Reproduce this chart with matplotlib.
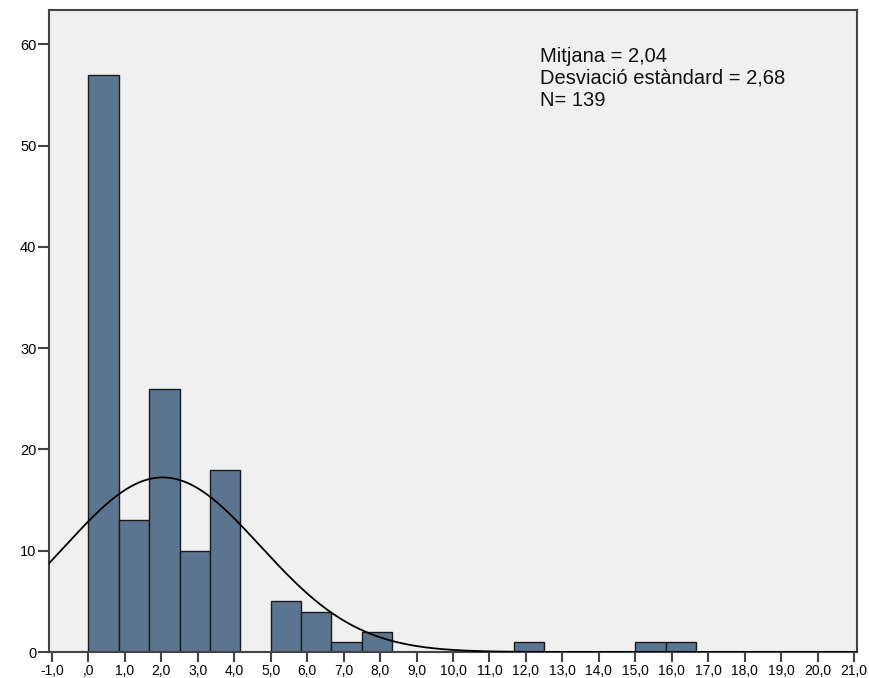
import numpy as np
import matplotlib
matplotlib.use("Agg")
import matplotlib.pyplot as plt

# histogram counts, bins of width 5/6 starting at 0
bin_start = 0.0
bin_width = 5.0 / 6.0
counts = [57, 13, 26, 10, 18, 0, 5, 4, 1, 2, 0, 0, 0, 0, 1, 0, 0, 0, 1, 1]

mean = 2.04
std = 2.68
n = 139

x_ticks = list(range(-1, 22))
y_ticks = [0, 10, 20, 30, 40, 50, 60]

plt.rcParams['font.family'] = ['Liberation Sans', 'DejaVu Sans']

fig = plt.figure(figsize=(8.7, 6.78), dpi=100)
ax = fig.add_axes([0.0563, 0.0383, 0.9287, 0.947])
ax.set_facecolor('#F0F0F0')

edges = bin_start + bin_width * np.arange(len(counts))
cnt = np.array(counts)
keep = cnt > 0
ax.bar(edges[keep], cnt[keep], width=bin_width, align='edge',
       color='#5B7590', edgecolor='#1a1a1a', linewidth=1.0, zorder=2)

# normal curve scaled to counts
xs = np.linspace(-1.1, 21.1, 600)
ys = n * bin_width / (std * np.sqrt(2 * np.pi)) * np.exp(-0.5 * ((xs - mean) / std) ** 2)
ax.plot(xs, ys, color='black', linewidth=1.3, zorder=3)

ax.set_xlim(-1.08, 21.08)
ax.set_ylim(0, 63.4)


def fmt(v):
    s = "%.1f" % v
    s = s.replace('.', ',')
    if s.startswith('0,'):
        s = s[1:]
    return s


ax.set_xticks(x_ticks)
ax.set_xticklabels([fmt(v) for v in x_ticks])
ax.set_yticks(y_ticks)
ax.set_yticklabels([str(v) for v in y_ticks])
ax.tick_params(axis='x', direction='out', length=7, width=1.5,
               color='#444444', labelsize=10, pad=1.5)
ax.tick_params(axis='y', direction='out', length=8, width=1.5,
               color='#444444', labelsize=10.5, pad=1)

for sp in ax.spines.values():
    sp.set_color('#444444')
    sp.set_linewidth(1.5)

ax.text(0.608, 0.943, "Mitjana = 2,04\nDesviació estàndard = 2,68\nN= 139",
        transform=ax.transAxes, ha='left', va='top', fontsize=14.5,
        linespacing=1.2, color='#111111')

fig.savefig('out.png', dpi=100, facecolor='white')
